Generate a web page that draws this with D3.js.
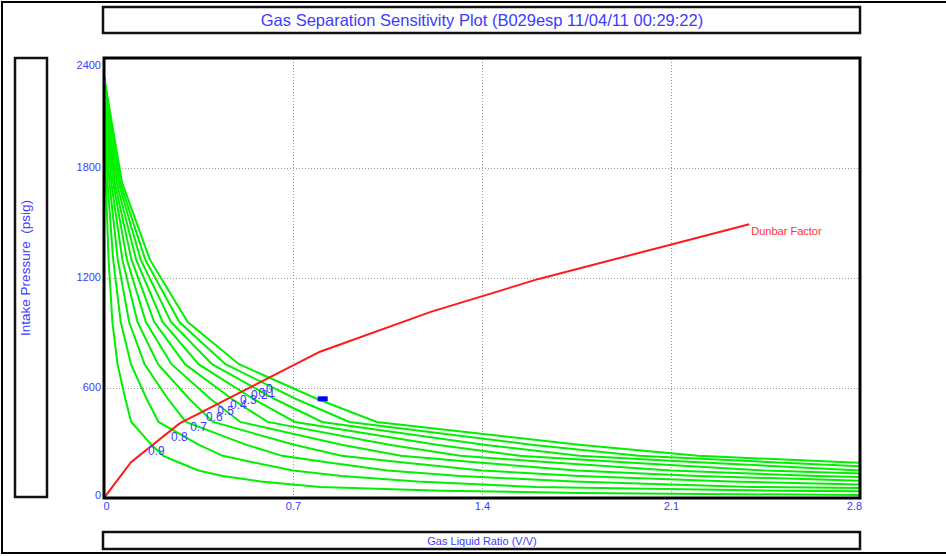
<!DOCTYPE html>
<html>
<head>
<meta charset="utf-8">
<script src="https://cdn.jsdelivr.net/npm/d3@7"></script>
<style>
  body { margin: 0; background: #fff; }
  svg { display: block; font-family: "Liberation Sans", Arial, sans-serif; }
</style>
</head>
<body>
<script>
// ---- data ----
const xTicks = [0, 0.7, 1.4, 2.1, 2.8];
const yTicks = [0, 600, 1200, 1800, 2400];

// intake pressure levels (psig) where each separation curve was sampled
const pressures = [2300, 1720, 1300, 960, 730, 540, 415, 290, 230, 195, 150, 120, 90, 60, 40, 27, 16];

// gas liquid ratio along each curve, one array per separation efficiency
const curveLabels = ["0", "0.1", "0.2", "0.3", "0.4", "0.5", "0.6", "0.7", "0.8", "0.9"];
const glr00 = [0, 0.067, 0.17, 0.31, 0.50, 0.79, 1.01, 1.76, 2.2, 2.75, 3.5];
const glr01 = [0, 0.060, 0.153, 0.279, 0.45, 0.711, 0.909, 1.584, 1.98, 2.475, 3.15];
const glr02 = [0, 0.054, 0.136, 0.248, 0.40, 0.632, 0.808, 1.408, 1.76, 2.2, 2.8, 3.52];
const glr03 = [0, 0.047, 0.119, 0.217, 0.35, 0.553, 0.707, 1.232, 1.54, 1.925, 2.45, 3.08];
const glr04 = [0, 0.040, 0.102, 0.186, 0.30, 0.474, 0.606, 1.056, 1.32, 1.65, 2.1, 2.64, 3.48];
const glr05 = [0, 0.034, 0.085, 0.155, 0.25, 0.395, 0.505, 0.88, 1.1, 1.375, 1.75, 2.2, 2.9];
const glr06 = [0, 0.027, 0.068, 0.124, 0.20, 0.316, 0.404, 0.704, 0.88, 1.1, 1.4, 1.76, 2.32, 3.2];
const glr07 = [0, 0.020, 0.051, 0.093, 0.15, 0.237, 0.303, 0.528, 0.66, 0.825, 1.05, 1.32, 1.74, 2.4, 3.75];
const glr08 = [0, 0.013, 0.034, 0.062, 0.10, 0.158, 0.202, 0.352, 0.44, 0.55, 0.70, 0.88, 1.16, 1.6, 2.5, 3.52];
const glr09 = [0, 0.007, 0.017, 0.031, 0.05, 0.079, 0.101, 0.176, 0.22, 0.275, 0.35, 0.44, 0.58, 0.8, 1.25, 1.76, 2.8];
const curveGlr = [glr00, glr01, glr02, glr03, glr04, glr05, glr06, glr07, glr08, glr09];

// where each curve label sits (GLR, psig)
const labelGlr = [0.60, 0.572, 0.544, 0.504, 0.467, 0.419, 0.378, 0.319, 0.248, 0.163];
const labelP   = [630, 608, 592, 570, 538, 505, 472, 418, 364, 288];

// Dunbar factor line
const dunbarGlr = [0, 0.1, 0.28, 0.8, 1.21, 1.61, 2.39];
const dunbarP   = [0, 195, 407, 798, 1015, 1195, 1493];

// operating point
const pointGlr = 0.81;
const pointP = 541;

const blue = "#3b3bff";

// ---- layout ----
const width = 946, height = 556;
const plot = { left: 104, right: 860, top: 58, bottom: 498 };

const svg = d3.select("body").append("svg")
  .attr("width", width)
  .attr("height", height);

// outer frame
svg.append("path")
  .attr("d", `M2,554 V2 H${width + 5} M2,553 H${width + 5}`)
  .attr("fill", "none")
  .attr("stroke", "#000")
  .attr("stroke-width", 2);

// title box
svg.append("rect")
  .attr("x", 103).attr("y", 7).attr("width", 757).attr("height", 26)
  .attr("fill", "#fff").attr("stroke", "#111").attr("stroke-width", 2.5);
svg.append("text")
  .attr("x", 482).attr("y", 26)
  .attr("text-anchor", "middle")
  .attr("fill", blue)
  .style("font-size", "16.5px")
  .text("Gas Separation Sensitivity Plot (B029esp 11/04/11 00:29:22)");

// y label box
svg.append("rect")
  .attr("x", 15).attr("y", 58).attr("width", 32).attr("height", 439)
  .attr("fill", "#fff").attr("stroke", "#111").attr("stroke-width", 2.5);
svg.append("text")
  .attr("transform", "translate(30,268) rotate(-90)")
  .attr("text-anchor", "middle")
  .attr("fill", blue)
  .style("font-size", "13.5px")
  .style("white-space", "pre")
  .text("Intake Pressure  (psig)");

// x label box
svg.append("rect")
  .attr("x", 103).attr("y", 532).attr("width", 757).attr("height", 17)
  .attr("fill", "#fff").attr("stroke", "#111").attr("stroke-width", 2.5);
svg.append("text")
  .attr("x", 482).attr("y", 545)
  .attr("text-anchor", "middle")
  .attr("fill", blue)
  .style("font-size", "11px")
  .text("Gas Liquid Ratio (V/V)");

// scales
const x = d3.scaleLinear().domain([0, 2.8]).range([plot.left, plot.right]);
const y = d3.scaleLinear().domain([0, 2400]).range([plot.bottom, plot.top]);

// dotted grid
svg.append("g")
  .attr("transform", `translate(0,${plot.bottom})`)
  .call(d3.axisBottom(x).tickValues(xTicks.slice(1, -1)).tickSize(-(plot.bottom - plot.top)).tickFormat(""))
  .call(g => g.select(".domain").remove())
  .call(g => g.selectAll("line").attr("stroke", "#999").attr("stroke-dasharray", "1,2"));
svg.append("g")
  .attr("transform", `translate(${plot.left},0)`)
  .call(d3.axisLeft(y).tickValues(yTicks.slice(1, -1)).tickSize(-(plot.right - plot.left)).tickFormat(""))
  .call(g => g.select(".domain").remove())
  .call(g => g.selectAll("line").attr("stroke", "#999").attr("stroke-dasharray", "1,2"));

// tick labels
svg.append("g")
  .attr("transform", `translate(${plot.left - 2},0)`)
  .call(d3.axisLeft(y).tickValues(yTicks).tickSize(0).tickPadding(1).tickFormat(d3.format("d")))
  .call(g => g.select(".domain").remove())
  .call(g => g.selectAll("text")
    .attr("fill", blue)
    .attr("dy", d => d === 2400 ? "0.95em" : d === 0 ? "0" : "0.2em")
    .style("font-size", "11px")
    .style("font-family", "'Liberation Sans', Arial, sans-serif"));
svg.append("g")
  .attr("transform", `translate(0,${plot.bottom + 4})`)
  .call(d3.axisBottom(x).tickValues(xTicks).tickSize(0).tickPadding(0).tickFormat(d => d === 0 ? "0" : d3.format(".1f")(d)))
  .call(g => g.select(".domain").remove())
  .call(g => g.selectAll("text")
    .attr("fill", blue)
    .attr("dx", d => d === 0 ? 2 : d === 2.8 ? -6 : 0)
    .style("font-size", "11px")
    .style("font-family", "'Liberation Sans', Arial, sans-serif"));

// clip to plot area
svg.append("clipPath").attr("id", "plotClip")
  .append("rect")
  .attr("x", plot.left).attr("y", plot.top)
  .attr("width", plot.right - plot.left).attr("height", plot.bottom - plot.top);

const lines = svg.append("g").attr("clip-path", "url(#plotClip)");

const line = d3.line().x(d => x(d[0])).y(d => y(d[1]));

// green separation curves
lines.selectAll("path.sep")
  .data(curveGlr.map(arr => arr.map((g, i) => [g, pressures[i]])))
  .join("path")
  .attr("class", "sep")
  .attr("d", line)
  .attr("fill", "none")
  .attr("stroke", "#00f000")
  .attr("stroke-width", 2);

// Dunbar factor line
lines.append("path")
  .datum(dunbarGlr.map((g, i) => [g, dunbarP[i]]))
  .attr("d", line)
  .attr("fill", "none")
  .attr("stroke", "#ff1a1a")
  .attr("stroke-width", 2);

svg.append("text")
  .attr("x", x(dunbarGlr[dunbarGlr.length - 1]) + 2)
  .attr("y", y(dunbarP[dunbarP.length - 1]) + 11)
  .attr("fill", "#ff3030")
  .style("font-size", "11px")
  .text("Dunbar Factor");

// curve labels
svg.append("g")
  .selectAll("text")
  .data(curveLabels)
  .join("text")
  .attr("x", (d, i) => x(labelGlr[i]))
  .attr("y", (d, i) => y(labelP[i]) + 10)
  .attr("fill", blue)
  .style("font-size", "12px")
  .text(d => d);

// operating point
svg.append("rect")
  .attr("x", x(pointGlr) - 5).attr("y", y(pointP) - 2.5)
  .attr("width", 10).attr("height", 5)
  .attr("fill", "#0000ff");

// plot border
svg.append("rect")
  .attr("x", plot.left).attr("y", plot.top)
  .attr("width", plot.right - plot.left).attr("height", plot.bottom - plot.top)
  .attr("fill", "none")
  .attr("stroke", "#000")
  .attr("stroke-width", 3);
</script>
</body>
</html>
